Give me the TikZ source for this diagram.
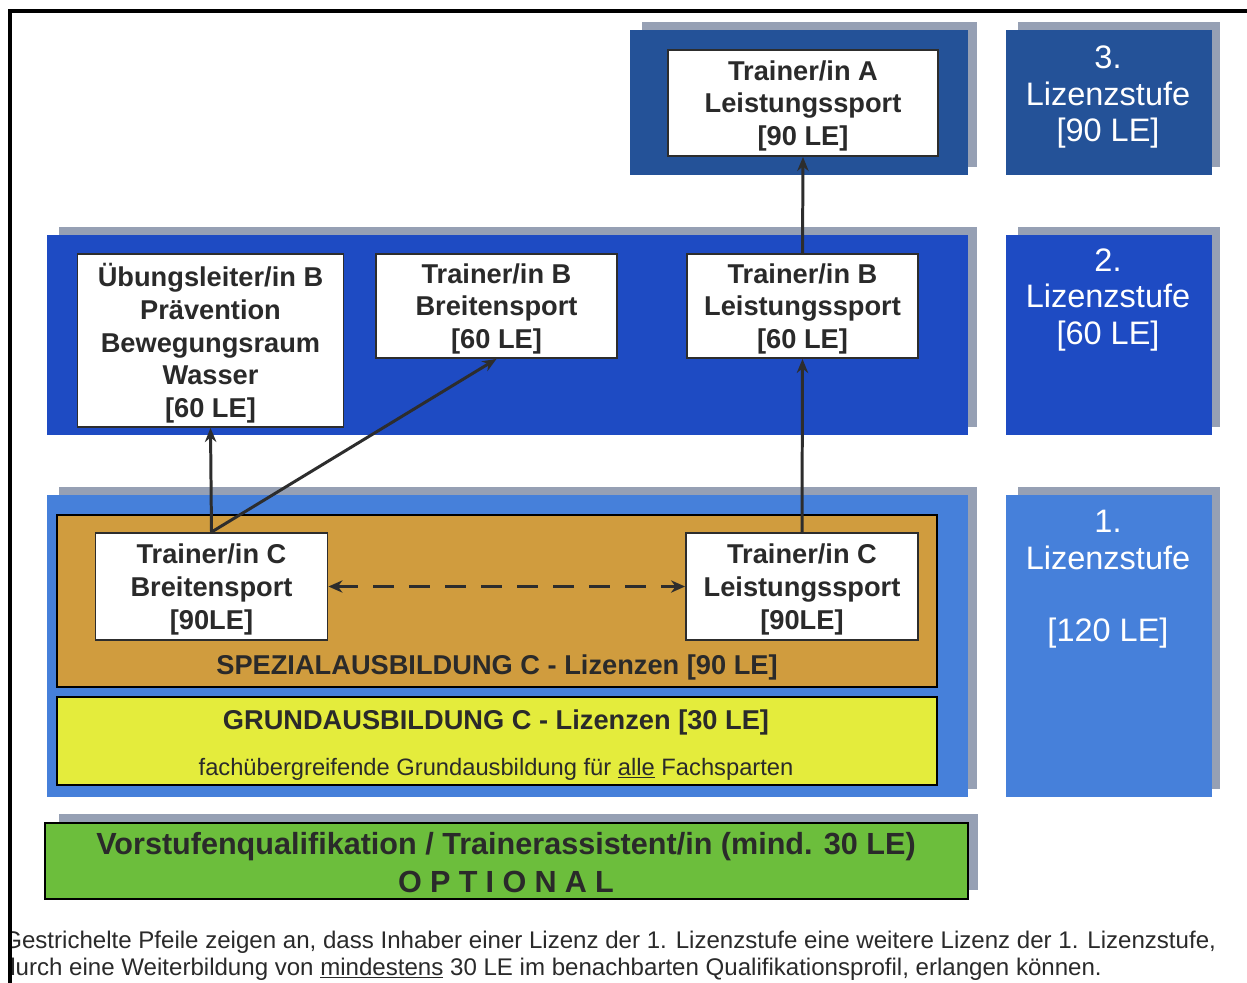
\documentclass[tikz,border=0pt]{standalone}
\usepackage{fontspec}
\setmainfont{Liberation Sans}
\usetikzlibrary{arrows.meta}
\definecolor{lvthree}{RGB}{36,82,152}
\definecolor{lvtwo}{RGB}{30,75,195}
\definecolor{lvone}{RGB}{70,128,218}
\definecolor{shadowc}{RGB}{150,160,180}
\definecolor{spezc}{RGB}{208,156,62}
\definecolor{grundc}{RGB}{228,236,60}
\definecolor{vorc}{RGB}{108,190,60}
\definecolor{txtc}{RGB}{42,42,42}
\definecolor{linec}{RGB}{45,45,45}
\newcommand\bxfont{\fontsize{15.5}{18.7}\selectfont\bfseries}
\newcommand\lvfont{\fontsize{18.5}{20.7}\selectfont}
\begin{document}
\begin{tikzpicture}[x=0.02cm,y=-0.02cm,
  band/.style={draw=none,inner sep=0,outer sep=0},
  frameband/.style={draw=black,line width=0.8pt,inner sep=0,outer sep=0},
  wbox/.style={draw=linec,line width=1.1pt,fill=white,inner sep=0,align=center,text=txtc,font=\bxfont,text depth=0pt},
  lvtext/.style={text=white,align=center,font=\lvfont,inner sep=0,text depth=0pt},
  bandtext/.style={text=txtc,inner sep=0},
  conn/.style={draw=linec,line width=1.7pt,-{Stealth[length=8pt,width=6.5pt]}},
  dconn/.style={draw=linec,line width=2.2pt,dash pattern=on 12pt off 8.5pt,{Stealth[length=8pt,width=7pt]}-{Stealth[length=8pt,width=7pt]}}
]
\useasboundingbox (0,0) rectangle (1247,983);
\fill[white] (0,0) rectangle (1247,983);

% shadows
\fill[shadowc] (642,22) rectangle (977,167);
\fill[shadowc] (1018,22) rectangle (1220,167);
\fill[shadowc] (59,227) rectangle (977,427);
\fill[shadowc] (1018,227) rectangle (1220,427);
\fill[shadowc] (59,487) rectangle (977,789);
\fill[shadowc] (1018,487) rectangle (1220,789);
\fill[shadowc] (59,814) rectangle (978,890);

% level bands
\node[band,fill=lvthree,minimum width=6.76cm,minimum height=2.9cm] (b3) at (799,102.5) {};
\node[band,fill=lvthree,minimum width=4.12cm,minimum height=2.9cm] (l3) at (1109,102.5) {};
\node[band,fill=lvtwo,minimum width=18.42cm,minimum height=4cm] (b2) at (507.5,335) {};
\node[band,fill=lvtwo,minimum width=4.12cm,minimum height=4cm] (l2) at (1109,335) {};
\node[band,fill=lvone,minimum width=18.42cm,minimum height=6.04cm] (b1) at (507.5,646) {};
\node[band,fill=lvone,minimum width=4.12cm,minimum height=6.04cm] (l1) at (1109,646) {};

% level labels
\node[lvtext] (l3t) at (1108,94) {3.\\Lizenzstufe\\{[}90 LE{]}};
\node[lvtext] (l2t) at (1108,296.5) {2.\\Lizenzstufe\\{[}60 LE{]}};
\node[lvtext] (l1t) at (1108,576) {1.\\Lizenzstufe\\[20.7pt]{[}120 LE{]}};

% inner bands of level 1
\node[frameband,fill=spezc,minimum width=17.6cm,minimum height=3.44cm] (spez) at (497,601) {};
\node[frameband,fill=grundc,minimum width=17.6cm,minimum height=1.76cm] (grund) at (497,741) {};
\node[bandtext,font=\bxfont] (spezt) at (497,667) {SPEZIALAUSBILDUNG C - Lizenzen {[}90 LE{]}};
\node[bandtext,font=\bxfont] (grundt) at (496,722.5) {GRUNDAUSBILDUNG C - Lizenzen {[}30 LE{]}};
\node[bandtext,font=\fontsize{13.5}{16}\selectfont] (grunds) at (496,769) {fachübergreifende Grundausbildung für \underline{alle} Fachsparten};

% green band
\node[frameband,fill=vorc,minimum width=18.46cm,minimum height=1.52cm] (vor) at (506.5,861) {};
\node[bandtext,font=\fontsize{17.4}{20}\selectfont\bfseries] (vort) at (506,847) {Vorstufenqualifikation / Trainerassistent/in (mind. 30 LE)};
\node[bandtext,font=\fontsize{17.4}{20}\selectfont\bfseries] (opt) at (506,882) {O\hspace{4.7pt}P\hspace{4.7pt}T\hspace{4.7pt}I\hspace{4.7pt}O\hspace{4.7pt}N\hspace{4.7pt}A\hspace{4.7pt}L};

% white boxes
\node[wbox,minimum width=5.4cm,minimum height=2.12cm] (ta) at (803,103) {Trainer/in A\\Leistungssport\\{[}90 LE{]}};
\node[wbox,minimum width=5.32cm,minimum height=3.46cm] (ub) at (210.5,340.5) {Übungsleiter/in B\\Prävention\\Bewegungsraum\\Wasser\\{[}60 LE{]}};
\node[wbox,minimum width=4.82cm,minimum height=2.08cm] (tbb) at (496.5,306) {Trainer/in B\\Breitensport\\{[}60 LE{]}};
\node[wbox,minimum width=4.62cm,minimum height=2.08cm] (tbl) at (802.5,306) {Trainer/in B\\Leistungssport\\{[}60 LE{]}};
\node[wbox,minimum width=4.64cm,minimum height=2.14cm] (tcb) at (211.5,586.5) {Trainer/in C\\Breitensport\\{[}90LE{]}};
\node[wbox,minimum width=4.64cm,minimum height=2.14cm] (tcl) at (802,586.5) {Trainer/in C\\Leistungssport\\{[}90LE{]}};

% connectors
\draw[conn] (tcb.north) -- (ub.south);
\draw[conn] (tcb.north) -- (tbb.south);
\draw[conn] (tcl.north) -- (tbl.south);
\draw[conn] (tbl.north) -- (ta.south);
\draw[dconn] (tcb.east) -- (tcl.west);

% footnote
\begin{scope}
\clip (12,905) rectangle (1247,983);
\node[anchor=base west,inner sep=0,text=txtc,font=\fontsize{13.7}{16}\selectfont] (n1) at (3,948) {Gestrichelte Pfeile zeigen an, dass Inhaber einer Lizenz der 1. Lizenzstufe eine weitere Lizenz der 1. Lizenzstufe,};
\node[anchor=base west,inner sep=0,text=txtc,font=\fontsize{13.7}{16}\selectfont] (n2) at (2,975) {durch eine Weiterbildung von \underline{mindestens} 30 LE im benachbarten Qualifikationsprofil, erlangen können.};
\end{scope}

% frame
\draw[black,line width=2.3pt] (10,983) -- (10,11) -- (1247,11);
\end{tikzpicture}
\end{document}
